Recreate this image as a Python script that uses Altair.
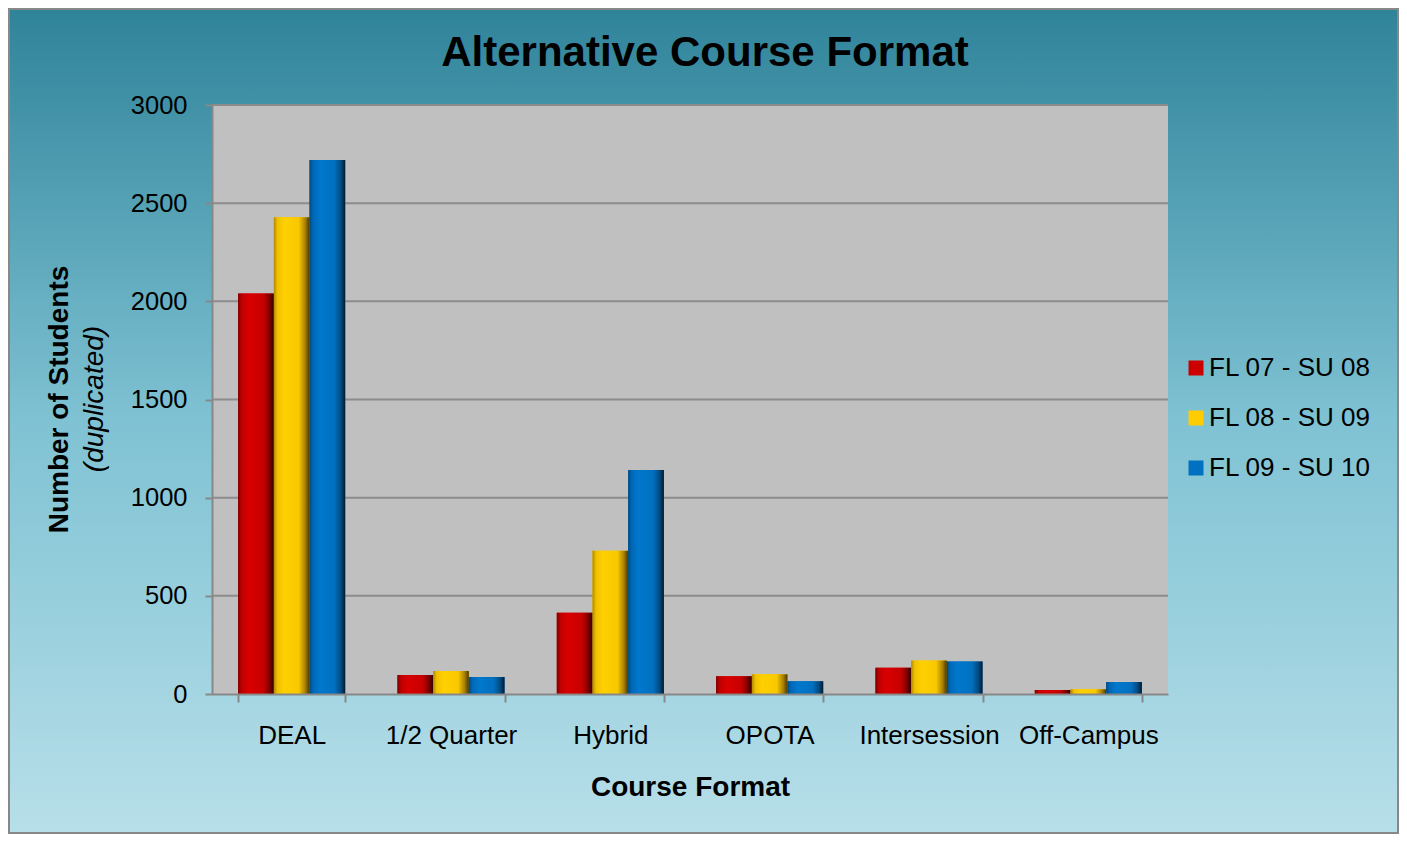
import altair as alt
import pandas as pd

categories = ["DEAL", "1/2 Quarter", "Hybrid", "OPOTA", "Intersession", "Off-Campus"]
series = ["FL 07 - SU 08", "FL 08 - SU 09", "FL 09 - SU 10"]
fl07 = [2040, 97, 414, 90, 134, 20]
fl08 = [2428, 117, 730, 100, 170, 24]
fl09 = [2720, 87, 1141, 65, 166, 61]
y_ticks = [0, 500, 1000, 1500, 2000, 2500, 3000]
grid_values = [500, 1000, 1500, 2000, 2500, 3000]
colors = ["#cc0000", "#ffcc00", "#0070c0"]

rows = []
for s, vals in zip(series, [fl07, fl08, fl09]):
    for c, v in zip(categories, vals):
        rows.append({"format": c, "series": s, "students": v})
df = pd.DataFrame(rows)
grid_df = pd.DataFrame({"students": grid_values})
one = pd.DataFrame({"k": [0]})

W, H = 956, 589
PL, PT, PR, PB = 204, 97, 231, 140
FONT = "Liberation Sans"


def grad(stops, vertical=False):
    return alt.Gradient(
        gradient="linear",
        x1=0, y1=0,
        x2=0 if vertical else 1,
        y2=1 if vertical else 0,
        stops=[alt.GradientStop(offset=o, color=c) for o, c in stops],
    )


bg = alt.Chart(one).mark_rect(
    color=grad([(0, "#2f8399"), (0.5, "#7fc2d3"), (1, "#b7dfe9")], vertical=True),
    stroke="#888888", strokeWidth=2,
).encode(
    x=alt.value(-PL + 1), x2=alt.value(W + PR - 1),
    y=alt.value(-PT + 1), y2=alt.value(H + PB - 1),
)

plot_bg = alt.Chart(one).mark_rect(color="#c0c0c0").encode(
    x=alt.value(0), x2=alt.value(W), y=alt.value(0), y2=alt.value(H)
)

x_scale = alt.Scale(domain=categories, paddingInner=0.328, paddingOuter=0.164)
y_scale = alt.Scale(domain=[0, 3000], nice=False)
off_scale = alt.Scale(domain=series, paddingInner=0, paddingOuter=0)

x_axis = alt.Axis(
    title="Course Format", titleFontSize=28, titleFontWeight="bold", titleFont=FONT,
    titleColor="black", titleY=101, titleBaseline="alphabetic", titleX=W / 2,
    titleAlign="center",
    labelFontSize=26, labelFont=FONT, labelColor="black", labelAngle=0, labelPadding=20,
    tickBand="extent", tickColor="#888888", tickSize=8, tickWidth=2,
    domainColor="#888888", domainWidth=2, grid=False, zindex=1,
)
y_axis = alt.Axis(
    title="Number of Students", titleFontSize=28, titleFontWeight="bold", titleFont=FONT,
    titleColor="black", titleAngle=270, titleX=-153, titleY=294, titleAlign="center",
    titleBaseline="middle", format="d",
    values=y_ticks, labelFontSize=25.5, labelFont=FONT, labelColor="black", labelPadding=18,
    tickColor="#888888", tickSize=7, tickWidth=2,
    domainColor="#888888", domainWidth=2, grid=False, zindex=1,
)

grid = alt.Chart(grid_df).mark_rule(color="#8c8c8c", strokeWidth=2).encode(
    y=alt.Y("students:Q", scale=y_scale, axis=y_axis),
    x=alt.value(0), x2=alt.value(W),
)

base_bars = alt.Chart(df).mark_bar().encode(
    x=alt.X("format:N", sort=categories, scale=x_scale, axis=x_axis),
    xOffset=alt.XOffset("series:N", sort=series, scale=off_scale),
    y=alt.Y("students:Q", scale=y_scale, axis=y_axis),
    color=alt.Color(
        "series:N", sort=series,
        scale=alt.Scale(domain=series, range=colors),
        legend=alt.Legend(
            title=None, orient="none", legendX=971, legendY=250,
            labelFontSize=26, labelFont=FONT, labelColor="black", labelLimit=0,
            symbolType="square", symbolSize=225, symbolStrokeWidth=0,
            rowPadding=24, labelOffset=0, padding=0,
        ),
    ),
)

gradients = [
    [(0, "#7a0000"), (0.1, "#c00000"), (0.3, "#d80000"), (0.7, "#c80000"), (0.88, "#800000"), (1, "#300000")],
    [(0, "#b08800"), (0.1, "#f0c000"), (0.3, "#ffd000"), (0.7, "#f8c800"), (0.88, "#a88000"), (1, "#4a3800")],
    [(0, "#004a80"), (0.1, "#0068b8"), (0.3, "#0078cc"), (0.7, "#0070c0"), (0.88, "#004a80"), (1, "#001a30")],
]

grad_layers = []
for s, g in zip(series, gradients):
    grad_layers.append(
        alt.Chart(df).transform_filter(alt.datum.series == s).mark_bar(color=grad(g)).encode(
            x=alt.X("format:N", sort=categories, scale=x_scale, axis=x_axis),
            xOffset=alt.XOffset("series:N", sort=series, scale=off_scale),
            y=alt.Y("students:Q", scale=y_scale, axis=y_axis),
        )
    )

dup = alt.Chart(one).mark_text(
    text="(duplicated)", font=FONT, fontSize=28, fontStyle="italic", color="black",
    angle=270, align="center", baseline="middle",
).encode(x=alt.value(-117), y=alt.value(294))

chart = alt.layer(bg, plot_bg, grid, base_bars, *grad_layers, dup).properties(
    width=W, height=H,
    autosize=alt.AutoSizeParams(type="none"),
    padding={"left": PL, "top": PT, "right": PR, "bottom": PB},
    title=alt.TitleParams(
        "Alternative Course Format", fontSize=42, fontWeight="bold", font=FONT,
        color="black", anchor="middle", frame="group", dx=15, offset=-100,
        baseline="alphabetic",
    ),
).configure_view(stroke=None)

chart.save("out.html", embed_options={"renderer": "svg", "actions": False})
